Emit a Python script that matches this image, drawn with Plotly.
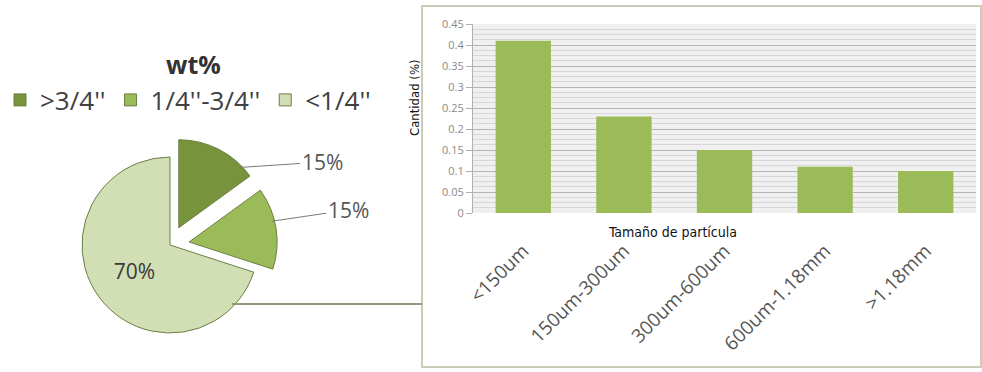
import math
import plotly.graph_objects as go

# ---- data ----
pie_labels = [">3/4''", "1/4''-3/4''", "<1/4''"]
pie_values = [15, 15, 70]
pie_colors = ["#77933c", "#9bbb59", "#d2deb4"]

bar_categories = ["<150um", "150um-300um", "300um-600um", "600um-1.18mm", ">1.18mm"]
bar_values = [0.41, 0.23, 0.15, 0.11, 0.10]
y_ticks = [0, 0.05, 0.1, 0.15, 0.2, 0.25, 0.3, 0.35, 0.4, 0.45]

W, H = 982, 372

def px(x):
    return x / W

def py(y):
    return (H - y) / H

# pie geometry (pixels)
PIE_CX, PIE_CY, PIE_R, PULL = 170, 245, 88, 0.22
half = PIE_R * (1 + PULL)

fig = go.Figure()

fig.add_trace(go.Pie(
    labels=pie_labels,
    values=pie_values,
    sort=False,
    direction="clockwise",
    rotation=0,
    pull=[PULL, PULL, 0],
    marker=dict(colors=pie_colors, line=dict(color="#6b7f45", width=1)),
    texttemplate="%{percent:.0%}",
    textposition=["none", "none", "inside"],
    insidetextorientation="horizontal",
    insidetextfont=dict(family="Open Sans", size=21, color="#3a3a3a"),
    domain=dict(x=[px(PIE_CX - half), px(PIE_CX + half)],
                y=[py(PIE_CY + half), py(PIE_CY - half)]),
    showlegend=True,
    hoverinfo="label+percent",
))

fig.add_trace(go.Bar(
    x=bar_categories,
    y=bar_values,
    marker=dict(color="#9bbb59", line=dict(width=0)),
    showlegend=False,
    xaxis="x", yaxis="y",
))

# outside percentage labels with leader lines for the pulled slices
total = sum(pie_values)
label_anns = []
start = 0.0
label_targets = [(45, 300, 162), (75, 326, 210)]  # (angle on arc, label left x, label y)
for i, v in enumerate(pie_values[:2]):
    frac = v / total
    mid = (start + frac / 2) * 360
    ocx = PIE_CX + PULL * PIE_R * math.sin(math.radians(mid))
    ocy = PIE_CY - PULL * PIE_R * math.cos(math.radians(mid))
    ang, lx, ly = label_targets[i]
    tx = ocx + PIE_R * math.sin(math.radians(ang)) - 2
    tyy = ocy - PIE_R * math.cos(math.radians(ang)) + 2
    label_anns.append(dict(
        text=f"{frac:.0%}", xref="paper", yref="paper",
        x=px(tx), y=py(tyy),
        ax=(lx + 22) - tx, ay=ly - tyy, axref="pixel", ayref="pixel",
        showarrow=True, arrowhead=0, arrowwidth=1, arrowcolor="#7a7a7a",
        font=dict(family="Open Sans", size=21, color="#555555"),
    ))
    start += frac

fig.update_layout(
    width=W, height=H,
    margin=dict(l=0, r=0, t=0, b=0, autoexpand=False),
    paper_bgcolor="white",
    plot_bgcolor="#f0f0f0",
    bargap=0.45,
    font=dict(family="Open Sans", color="#444444"),
    xaxis=dict(
        domain=[px(473), px(976)],
        anchor="y",
        automargin=False,
        tickangle=-45,
        tickfont=dict(family="Open Sans", size=19, color="#555555"),
        ticklabelstandoff=22,
        showgrid=False,
        showline=False,
        ticks="",
    ),
    yaxis=dict(
        domain=[py(213), py(24)],
        anchor="x",
        automargin=False,
        range=[0, 0.45],
        tickvals=y_ticks,
        tickfont=dict(family="Open Sans", size=11, color="#8a8a8a"),
        showgrid=True,
        gridcolor="#b5b5b5",
        gridwidth=1,
        minor=dict(dtick=0.0125, showgrid=True, gridcolor="#d6d6d6"),
        showline=True,
        linecolor="#b0b0b0",
        ticks="outside",
        ticklen=6,
        tickcolor="#b0b0b0",
        zeroline=False,
    ),
    legend=dict(
        orientation="h",
        x=0.0, y=py(100), xanchor="left", yanchor="middle",
        font=dict(family="Open Sans", size=26, color="#404040"),
        itemwidth=30,
        bgcolor="rgba(0,0,0,0)",
    ),
    annotations=[
        dict(text="<b>wt%</b>", x=px(193), y=py(64), xref="paper", yref="paper",
             xanchor="center", yanchor="middle",
             showarrow=False, font=dict(family="Open Sans", size=25, color="#333333")),
        dict(text="Cantidad (%)", x=px(414), y=py(98), xref="paper", yref="paper",
             xanchor="center", yanchor="middle",
             textangle=-90, showarrow=False,
             font=dict(family="DejaVu Sans Condensed", size=13, color="#111111")),
        dict(text="Tamaño de partícula", x=px(672), y=py(232), xref="paper", yref="paper",
             xanchor="center", yanchor="middle",
             showarrow=False,
             font=dict(family="DejaVu Sans Condensed", size=14, color="#111111")),
    ] + label_anns,
    shapes=[
        dict(type="rect", xref="paper", yref="paper",
             x0=px(422), x1=px(981), y0=py(367), y1=py(6),
             line=dict(color="#c9cdb6", width=2), fillcolor="rgba(0,0,0,0)", layer="below"),
        dict(type="line", xref="paper", yref="paper",
             x0=px(232), x1=px(422), y0=py(304), y1=py(304),
             line=dict(color="#8e9a78", width=2)),
    ],
)

fig.write_html("out.html")
